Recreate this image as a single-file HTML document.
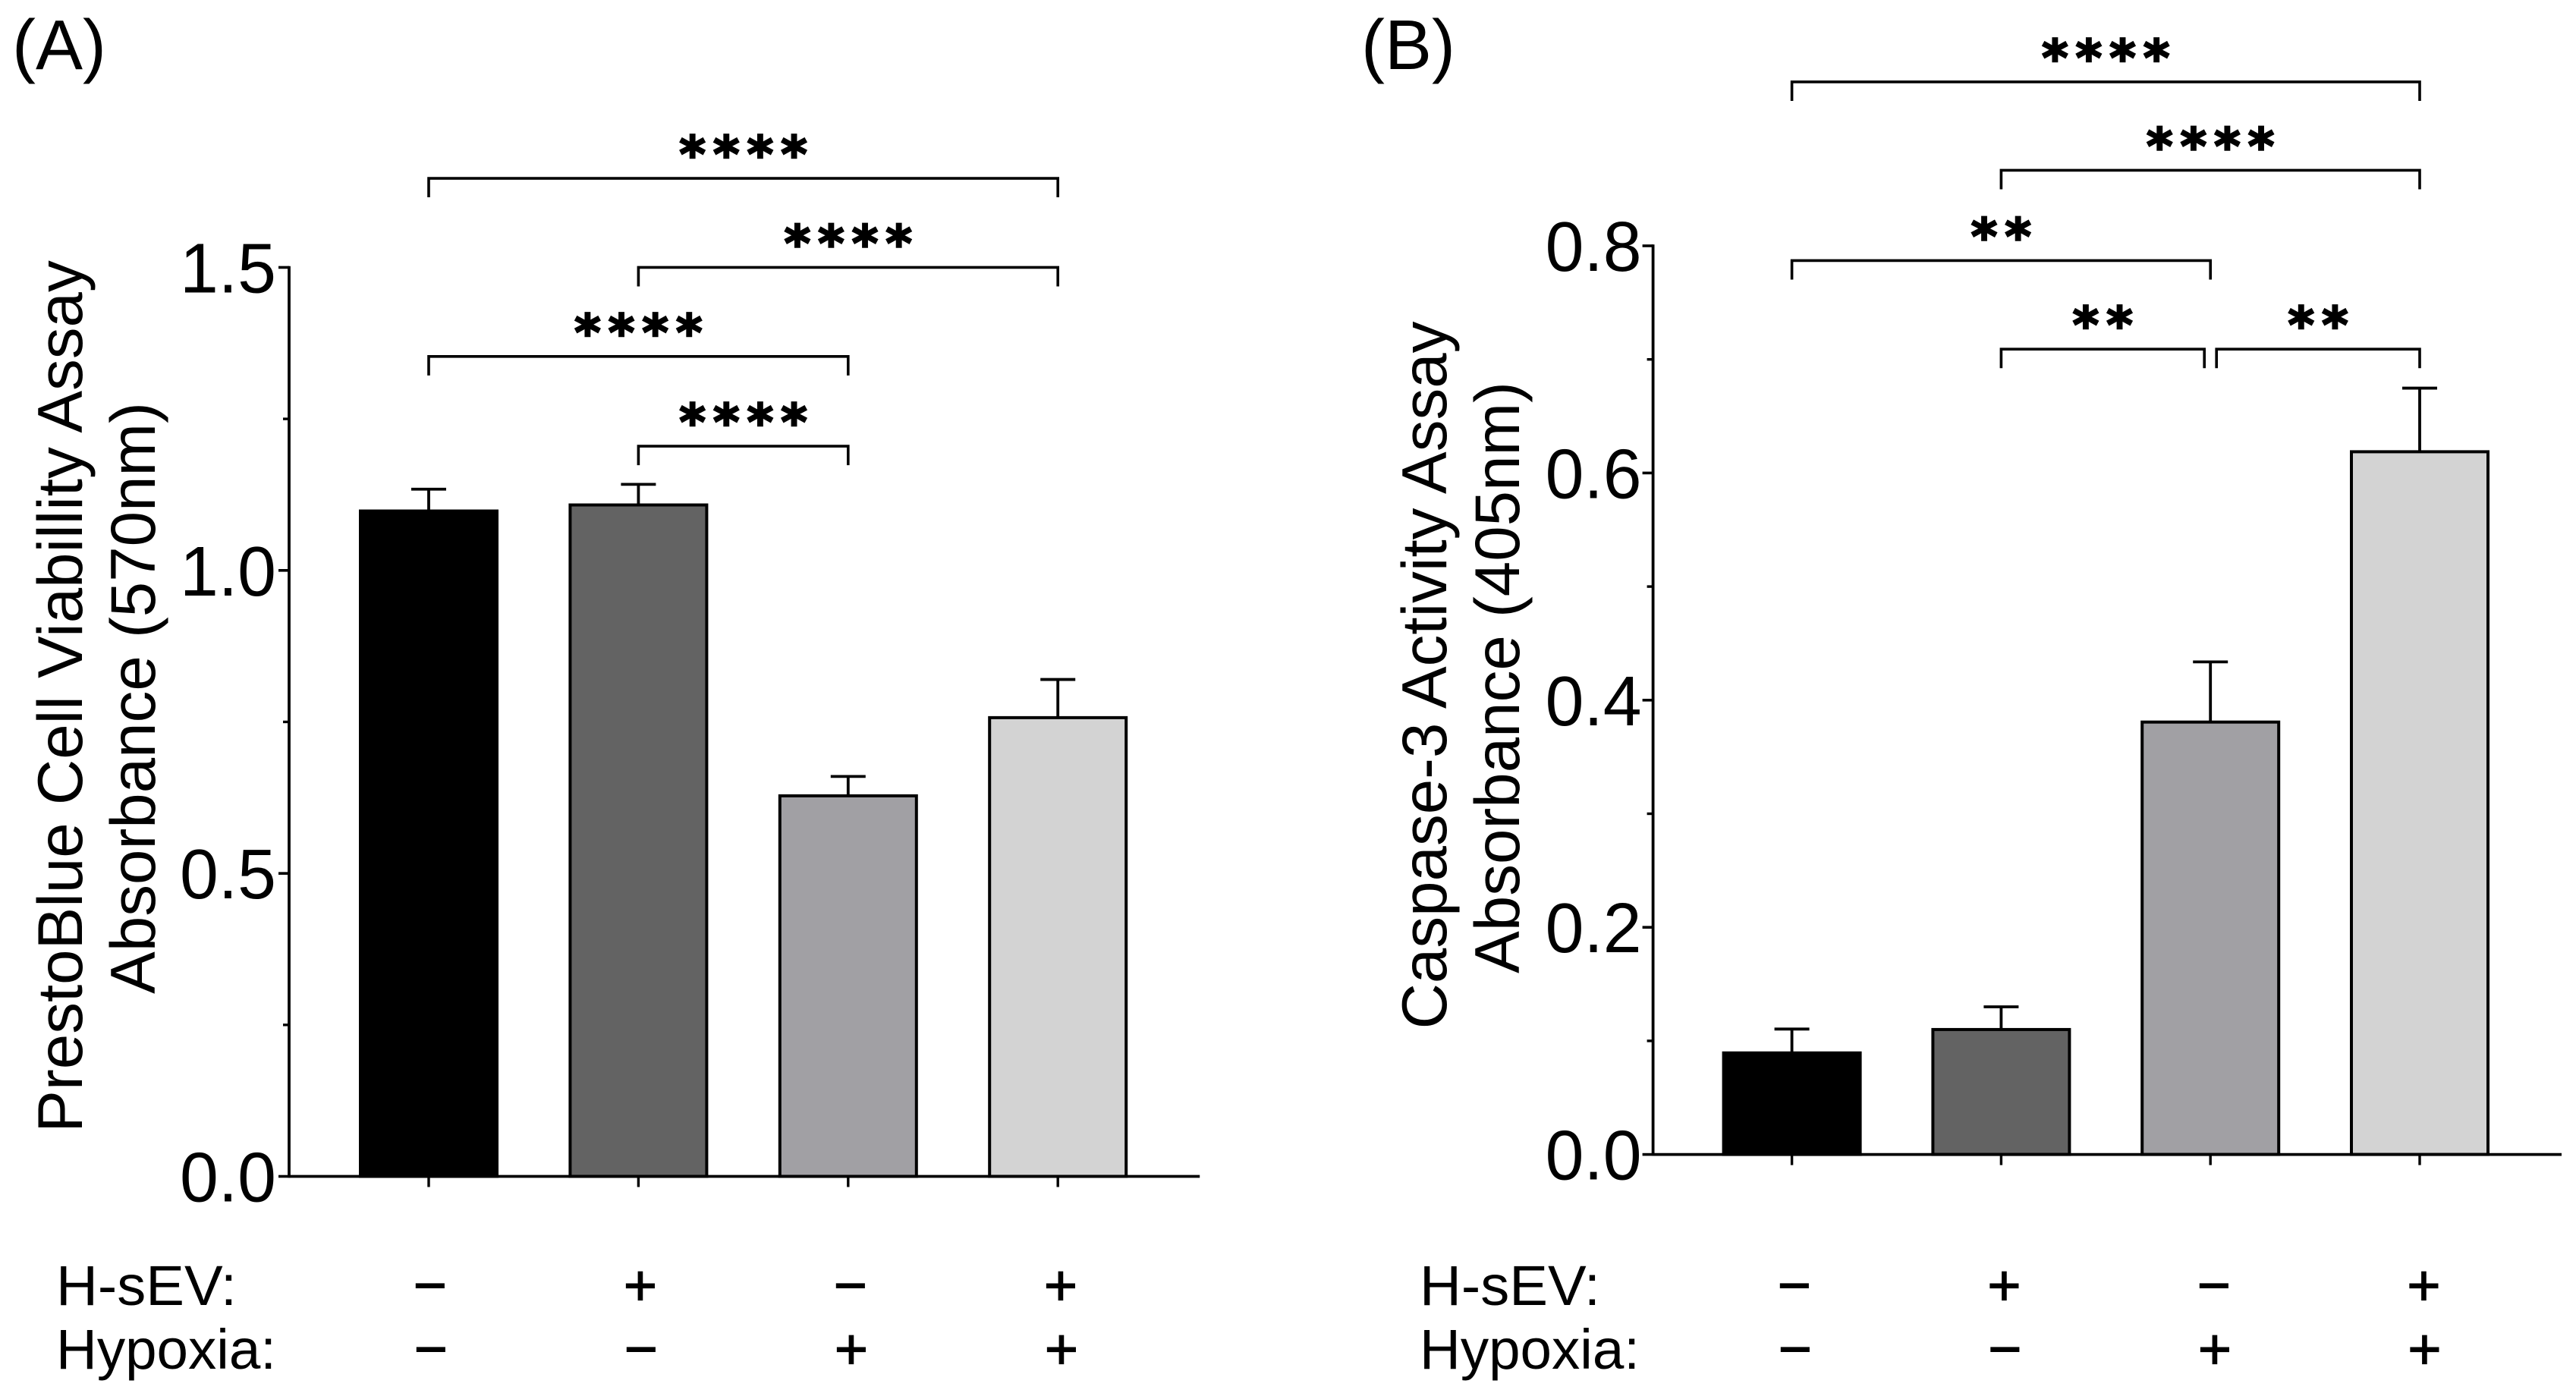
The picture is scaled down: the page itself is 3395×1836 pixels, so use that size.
<!DOCTYPE html>
<html lang="en">
<head>
<meta charset="utf-8">
<title>PrestoBlue and Caspase-3 assays</title>
<style>
  html, body { margin: 0; padding: 0; background: #fff; width: 3395px; height: 1836px; overflow: hidden; }
  svg { display: block; position: absolute; left: 0; top: 0; }
  text { font-family: "Liberation Sans", Arial, sans-serif; fill: #000; }
  .title { font-size: 83.5px; }
  .panel-label { font-size: 93px; }
  .row-label { font-size: 74px; }
</style>
</head>
<body>
<svg id="figure" xmlns="http://www.w3.org/2000/svg" width="3395" height="1836" viewBox="0 0 3395 1836">
  <g id="panel-a">
    <text class="panel-label" x="16" y="91">(A)</text>
    <text class="title" text-anchor="middle" transform="translate(108 918) rotate(-90)">PrestoBlue Cell Viabillity Assay</text>
    <text class="title" text-anchor="middle" transform="translate(204 920) rotate(-90)">Absorbance (570nm)</text>
    <text class="row-label" x="74" y="1720" textLength="238" lengthAdjust="spacingAndGlyphs">H-sEV:</text>
    <text class="row-label" x="74" y="1804" textLength="290" lengthAdjust="spacingAndGlyphs">Hypoxia:</text>
  </g>
  <g id="panel-b">
    <text class="panel-label" x="1794" y="91">(B)</text>
    <text class="title" text-anchor="middle" transform="translate(1906 890) rotate(-90)">Caspase-3 Activity Assay</text>
    <text class="title" text-anchor="middle" transform="translate(2002 893) rotate(-90)">Absorbance (405nm)</text>
    <text class="row-label" x="1871" y="1720" textLength="238" lengthAdjust="spacingAndGlyphs">H-sEV:</text>
    <text class="row-label" x="1871" y="1804" textLength="290" lengthAdjust="spacingAndGlyphs">Hypoxia:</text>
  </g>
</svg>
<script>
// ---- Chart data ----
const groups = ['ctrl', 'hsev', 'hypoxia', 'hsev-hypoxia'];
const hsevSigns = ['\u2212', '+', '\u2212', '+'];
const hypoxiaSigns = ['\u2212', '\u2212', '+', '+'];
const barColors = ['#000000', '#636363', '#a1a0a4', '#d3d3d3'];

const meansA = [1.098, 1.108, 0.628, 0.757];
const errorsA = [0.036, 0.034, 0.032, 0.063];
const tickLabelsA = ['0.0', '0.5', '1.0', '1.5'];
const minorTicksA = [0.25, 0.75, 1.25];
const bracketFromA = [0, 1, 0, 1];
const bracketToA = [3, 3, 2, 2];
const bracketLevelA = [1.647, 1.5, 1.353, 1.205];
const bracketStarsA = ['****', '****', '****', '****'];

const meansB = [0.0894, 0.110, 0.3807, 0.6187];
const errorsB = [0.021, 0.020, 0.053, 0.056];
const tickLabelsB = ['0.0', '0.2', '0.4', '0.6', '0.8'];
const minorTicksB = [0.1, 0.3, 0.5, 0.7];
const bracketFromB = [0, 1, 0, 1, 2];
const bracketToB = [3, 3, 2, 2, 3];
const bracketLevelB = [0.9443, 0.8665, 0.787, 0.709, 0.709];
const bracketStarsB = ['****', '****', '**', '**', '**'];

// ---- Drawing ----
const NS = 'http://www.w3.org/2000/svg';
function mk(parent, tag, props, text) {
  const el = document.createElementNS(NS, tag);
  for (const k in props) el.setAttribute(k, props[k]);
  if (text !== undefined) el.textContent = text;
  parent.appendChild(el);
  return el;
}
function line(parent, x1, y1, x2, y2, w) {
  return mk(parent, 'line', { x1: x1, y1: y1, x2: x2, y2: y2, stroke: '#000', 'stroke-width': w });
}

function drawPanel(cfg) {
  const root = document.getElementById(cfg.id);
  const xScale = i => cfg.x0 + cfg.step * i;
  const yScale = v => cfg.y0 - v * cfg.pxPerUnit;
  const key = cfg.key;
  const maxTick = parseFloat(cfg.tickLabels[cfg.tickLabels.length - 1]);

  // bars
  cfg.means.forEach((m, i) => {
    const cap = line(root, xScale(i) - 23, yScale(m + cfg.errors[i]), xScale(i) + 23, yScale(m + cfg.errors[i]), 3.8);
    
    
    const stem = line(root, xScale(i), yScale(m + cfg.errors[i]), xScale(i), yScale(m), 3.8);
    
    
    const bar = mk(root, 'rect', {
      x: xScale(i) - 90, y: yScale(m), width: 180, height: yScale(0) - yScale(m),
      fill: barColors[i], stroke: '#000', 'stroke-width': 4
    });
    
    
  });

  // axes
  const yAxis = line(root, cfg.axisX, yScale(maxTick) - 1.75, cfg.axisX, yScale(0) + 1.75, 3.8);
  
  
  const xAxis = line(root, cfg.axisX, yScale(0), xScale(groups.length - 1) + 187, yScale(0), 3.8);
  
  

  cfg.tickLabels.forEach(lbl => {
    const v = parseFloat(lbl);
    const t = line(root, cfg.axisX - 14, yScale(v), cfg.axisX, yScale(v), 3.6);
    
    
    const tx = mk(root, 'text', {
      x: cfg.axisX - cfg.labelGap, y: yScale(v) + 33, 'text-anchor': 'end', 'font-size': 93,
      textLength: 127, lengthAdjust: 'spacingAndGlyphs'
    }, lbl);
    
    
  });
  cfg.minorTicks.forEach(v => {
    const t = line(root, cfg.axisX - 8, yScale(v), cfg.axisX, yScale(v), 3.4);
    
    
  });
  groups.forEach((g, i) => {
    const t = line(root, xScale(i), yScale(0), xScale(i), yScale(0) + 14, 3.4);
    
    
  });

  // +/- rows
  const signX = i => cfg.signX0 + cfg.signStep * i;
  hsevSigns.forEach((s, i) => {
    const tx = mk(root, 'text', { x: signX(i), y: 1720, 'text-anchor': 'middle', 'font-size': 76, stroke: '#000', 'stroke-width': 1.2 }, s);
    
    
  });
  hypoxiaSigns.forEach((s, i) => {
    const tx = mk(root, 'text', { x: signX(i) + 1, y: 1804, 'text-anchor': 'middle', 'font-size': 76, stroke: '#000', 'stroke-width': 1.2 }, s);
    
    
  });

  // significance brackets
  cfg.bracketFrom.forEach((from, i) => {
    const to = cfg.bracketTo[i];
    const level = cfg.bracketLevel[i];
    // brackets sharing a level and an end group are pulled apart slightly
    const trimRight = cfg.bracketFrom.some((f, j) => j !== i && f === to && cfg.bracketLevel[j] === level) ? 8 : 0;
    const trimLeft = cfg.bracketTo.some((t, j) => j !== i && t === from && cfg.bracketLevel[j] === level) ? 8 : 0;
    const xa = xScale(from) + trimLeft;
    const xb = xScale(to) - trimRight;
    const y = yScale(level);
    const path = mk(root, 'path', {
      d: 'M' + xa + ' ' + (y + 25) + 'V' + y + 'H' + xb + 'V' + (y + 25),
      fill: 'none', stroke: '#000', 'stroke-width': 3.6, 'stroke-linejoin': 'miter'
    });
    
    
    const fs = 66;
    const stars = mk(root, 'text', {
      x: (xa + xb) / 2 + 5, y: y - 42.5 + fs * 0.515, 'text-anchor': 'middle',
      'font-size': fs, 'letter-spacing': 10.1, stroke: '#000', 'stroke-width': 2.4,
      style: 'font-family:"DejaVu Sans",sans-serif;font-weight:bold'
    }, cfg.bracketStars[i]);
    
    
  });
}

drawPanel({
  id: 'panel-a', key: 'a', x0: 565, step: 276.4, y0: 1550.5, pxPerUnit: 798.7, axisX: 381, labelGap: 17,
  signX0: 567, signStep: 277,
  means: meansA, errors: errorsA, tickLabels: tickLabelsA, minorTicks: minorTicksA,
  bracketFrom: bracketFromA, bracketTo: bracketToA, bracketLevel: bracketLevelA, bracketStars: bracketStarsA
});
drawPanel({
  id: 'panel-b', key: 'b', x0: 2361.6, step: 275.8, y0: 1521.6, pxPerUnit: 1497, axisX: 2178.6, labelGap: 15,
  signX0: 2365, signStep: 276.5,
  means: meansB, errors: errorsB, tickLabels: tickLabelsB, minorTicks: minorTicksB,
  bracketFrom: bracketFromB, bracketTo: bracketToB, bracketLevel: bracketLevelB, bracketStars: bracketStarsB
});
</script>
</body>
</html>
